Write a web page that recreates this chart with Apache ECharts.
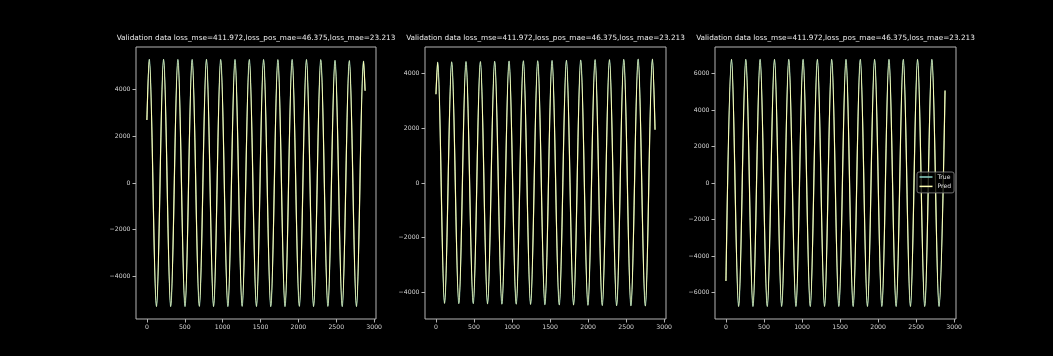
<!DOCTYPE html>
<html>
<head>
<meta charset="utf-8">
<script src="https://cdn.jsdelivr.net/npm/echarts@6/dist/echarts.min.js"></script>
<style>
html,body{margin:0;padding:0;background:#000;}
#chart{width:1053px;height:356px;}
</style>
</head>
<body>
<div id="chart"></div>
<script>
// ---- data (key points: start, peaks/troughs, end) ----
const titleText = 'Validation data loss_mse=411.972,loss_pos_mae=46.375,loss_mae=23.213';
const seriesNames = ['True', 'Pred'];
const xTicks = [0, 500, 1000, 1500, 2000, 2500, 3000];

const p1X = [0, 31, 126, 220, 314, 409, 503, 597, 692, 786, 880, 974, 1069, 1163, 1257, 1352, 1446, 1540, 1635, 1729, 1823, 1917, 2012, 2106, 2200, 2295, 2389, 2483, 2578, 2672, 2766, 2860, 2880];
const p1True = [2700, 5300, -5290, 5300, -5290, 5290, -5290, 5290, -5280, 5300, -5290, 5290, -5290, 5290, -5280, 5290, -5290, 5290, -5290, 5280, -5290, 5290, -5280, 5290, -5290, 5280, -5280, 5250, -5290, 5240, -5290, 5220, 3950];
const p1Pred = [2700, 5300, -5290, 5300, -5290, 5290, -5290, 5290, -5280, 5300, -5290, 5290, -5290, 5290, -5280, 5290, -5290, 5290, -5290, 5280, -5290, 5290, -5280, 5290, -5290, 5280, -5280, 5250, -5290, 5240, -5290, 5220, 3950];
const p1YTicks = [-4000, -2000, 0, 2000, 4000];

const p2X = [0, 22, 113, 207, 301, 395, 490, 584, 678, 772, 867, 961, 1055, 1149, 1244, 1338, 1432, 1526, 1621, 1715, 1809, 1903, 1998, 2092, 2186, 2281, 2375, 2469, 2563, 2658, 2752, 2846, 2880];
const p2True = [3250, 4420, -4400, 4430, -4410, 4440, -4410, 4440, -4420, 4450, -4430, 4460, -4430, 4470, -4440, 4470, -4450, 4480, -4460, 4490, -4460, 4500, -4470, 4510, -4480, 4510, -4490, 4520, -4490, 4530, -4500, 4530, 1950];
const p2Pred = [3250, 4420, -4400, 4430, -4410, 4440, -4410, 4440, -4420, 4450, -4430, 4460, -4430, 4470, -4440, 4470, -4450, 4480, -4460, 4490, -4460, 4500, -4470, 4510, -4480, 4510, -4490, 4520, -4490, 4530, -4500, 4530, 1950];
const p2YTicks = [-4000, -2000, 0, 2000, 4000];

const p3X = [0, 73, 167, 261, 355, 449, 543, 638, 732, 826, 920, 1014, 1108, 1202, 1296, 1390, 1484, 1578, 1672, 1766, 1860, 1954, 2049, 2143, 2237, 2331, 2425, 2519, 2613, 2707, 2801, 2880];
const p3True = [-5370, 6780, -6770, 6780, -6770, 6780, -6770, 6780, -6770, 6780, -6770, 6780, -6770, 6780, -6770, 6780, -6770, 6780, -6770, 6780, -6770, 6780, -6770, 6780, -6770, 6780, -6770, 6780, -6770, 6780, -6770, 5070];
const p3Pred = [-5370, 6780, -6770, 6780, -6770, 6780, -6770, 6780, -6770, 6780, -6770, 6780, -6770, 6780, -6770, 6780, -6770, 6780, -6770, 6780, -6770, 6780, -6770, 6780, -6770, 6780, -6770, 6780, -6770, 6780, -6770, 5070];
const p3YTicks = [-6000, -4000, -2000, 0, 2000, 4000, 6000];

// ---- layout / style ----
const panels = [
  {x: p1X, t: p1True, p: p1Pred, yt: p1YTicks, ymax: 5825, left: 136, width: 240},
  {x: p2X, t: p2True, p: p2Pred, yt: p2YTicks, ymax: 4975, left: 425, width: 241},
  {x: p3X, t: p3True, p: p3Pred, yt: p3YTicks, ymax: 7460, left: 715, width: 241}
];
const colors = {True: '#8dd3c7', Pred: '#feffb3'};
const fontFam = '"DejaVu Sans", sans-serif';
const tickColor = '#d4d4d4';
const spineColor = '#b4b4b4';
const plain = v => String(v).replace('-', '\u2212');

const grid = [], xAxis = [], yAxis = [], series = [], title = [];
panels.forEach((pn, i) => {
  grid.push({left: pn.left, width: pn.width, top: 47, height: 272, show: true,
    borderColor: spineColor, borderWidth: 1, backgroundColor: 'transparent', containLabel: false});
  title.push({text: titleText, left: pn.left + pn.width / 2, top: 35, textAlign: 'center', padding: 0,
    textStyle: {color: '#ececec', fontSize: 7.3, fontWeight: 'normal', fontFamily: fontFam}});
  xAxis.push({type: 'value', gridIndex: i, min: -144, max: 3024, splitLine: {show: false},
    axisLine: {show: false, onZero: false},
    axisTick: {show: true, length: 3.5, customValues: xTicks, lineStyle: {color: spineColor}},
    axisLabel: {customValues: xTicks, color: tickColor, fontSize: 6.2, fontFamily: fontFam, margin: 5.5, formatter: plain}});
  yAxis.push({type: 'value', gridIndex: i, min: -pn.ymax, max: pn.ymax, splitLine: {show: false},
    axisLine: {show: false, onZero: false},
    axisTick: {show: true, length: 3.5, customValues: pn.yt, lineStyle: {color: spineColor}},
    axisLabel: {customValues: pn.yt, color: tickColor, fontSize: 6.2, fontFamily: fontFam, margin: 5.5, formatter: plain}});
  [['True', pn.t, 0.8], ['Pred', pn.p, 1.2]].forEach(([name, ys, w]) => {
    series.push({name: name, type: 'line', xAxisIndex: i, yAxisIndex: i,
      data: pn.x.map((xv, k) => [xv, ys[k]]), showSymbol: false, smooth: 0.36,
      lineStyle: {color: colors[name], width: w}, itemStyle: {color: colors[name]},
      emphasis: {disabled: true}, animation: false});
  });
});

const chart = echarts.init(document.getElementById('chart'), null, {renderer: 'canvas'});
chart.setOption({
  backgroundColor: '#000',
  animation: false,
  title: title,
  grid: grid,
  xAxis: xAxis,
  yAxis: yAxis,
  legend: {data: seriesNames, orient: 'vertical', left: 917, top: 172,
    icon: 'rect', itemWidth: 13, itemHeight: 1.5, itemGap: 1.4,
    padding: [1, 3, 2.5, 2.5], borderColor: '#8a8a8a', borderWidth: 0.8, borderRadius: 2,
    backgroundColor: 'rgba(0,0,0,0.8)',
    textStyle: {color: '#e0e0e0', fontSize: 6.1, fontFamily: fontFam, lineHeight: 8}},
  series: series
});
</script>
</body>
</html>
